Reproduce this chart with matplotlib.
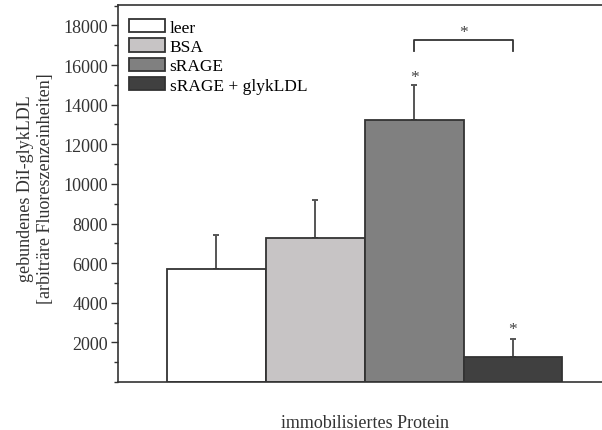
import numpy as np
import matplotlib
matplotlib.use("Agg")
import matplotlib.pyplot as plt
from matplotlib.ticker import MultipleLocator

plt.rcParams["font.family"] = ["Liberation Serif", "DejaVu Serif"]

labels = ["leer", "BSA", "sRAGE", "sRAGE + glykLDL"]
values = [5700, 7270, 13230, 1260]
errors = [1720, 1920, 1760, 910]
colors = ["#ffffff", "#c7c4c5", "#808080", "#404040"]
EDGE = "#333333"

# significance: star heights (glyph centre) and bracket between sRAGE / sRAGE + glykLDL
star_bars = [2, 3]
star_y = [15650, 2930]
bracket_x = [2, 3]
bracket_low, bracket_high = 16700, 17260
bracket_star_y = 17950

fig = plt.figure(figsize=(6.02, 4.31), dpi=100)
ax = fig.add_axes([118 / 602, 48 / 431, 484 / 602, 377 / 431])

x = np.arange(len(values))
ax.bar(x, values, width=1.0, color=colors, edgecolor=EDGE, linewidth=1.3,
       label=labels, zorder=2)
ax.errorbar(x, values, yerr=[np.zeros(len(errors)), errors], fmt="none",
            ecolor="#555555", elinewidth=1.4, capsize=2.5, capthick=1.4, zorder=1)

STAR_OFF = 480  # baseline offset so the asterisk glyph centre sits at the target
for b, y in zip(star_bars, star_y):
    ax.text(b, y - STAR_OFF, "*", ha="center", va="baseline", fontsize=12.5,
            color="#444444")
ax.plot([bracket_x[0], bracket_x[0], bracket_x[1], bracket_x[1]],
        [bracket_low, bracket_high, bracket_high, bracket_low], color="#333333", lw=1.3)
ax.text(np.mean(bracket_x), bracket_star_y - STAR_OFF, "*", ha="center",
        va="baseline", fontsize=12.5, color="#444444")

ax.set_xlim(-0.995, 3.9)
ax.set_ylim(0, 19030)
ax.set_xticks([])
ax.yaxis.set_minor_locator(MultipleLocator(1000))
ax.set_yticks(np.arange(2000, 18001, 2000))
ax.tick_params(axis="y", which="major", length=5, width=1, color="#333333",
               labelsize=13, pad=2, labelcolor="#333333")
ax.tick_params(axis="y", which="minor", length=3, width=1, color="#333333")

ax.spines["right"].set_visible(False)
for s in ["left", "bottom", "top"]:
    ax.spines[s].set_color("#333333")
    ax.spines[s].set_linewidth(1.2)

ax.set_ylabel("gebundenes DiI-glykLDL\n[arbiträre Fluoreszenzeinheiten]",
              fontsize=13, color="#333333", linespacing=1.25)
ax.yaxis.set_label_coords(-0.132, 0.515)
ax.set_xlabel("immobilisiertes Protein", fontsize=13, color="#333333")
ax.xaxis.set_label_coords(0.51, -0.085)

ax.legend(loc="upper left", frameon=False, fontsize=12.5, handlelength=2.1,
          handleheight=0.8, handletextpad=0.25, labelspacing=0.15,
          borderpad=0.2, borderaxespad=0.0, bbox_to_anchor=(0.015, 0.972))

fig.savefig("out.png", dpi=100)
